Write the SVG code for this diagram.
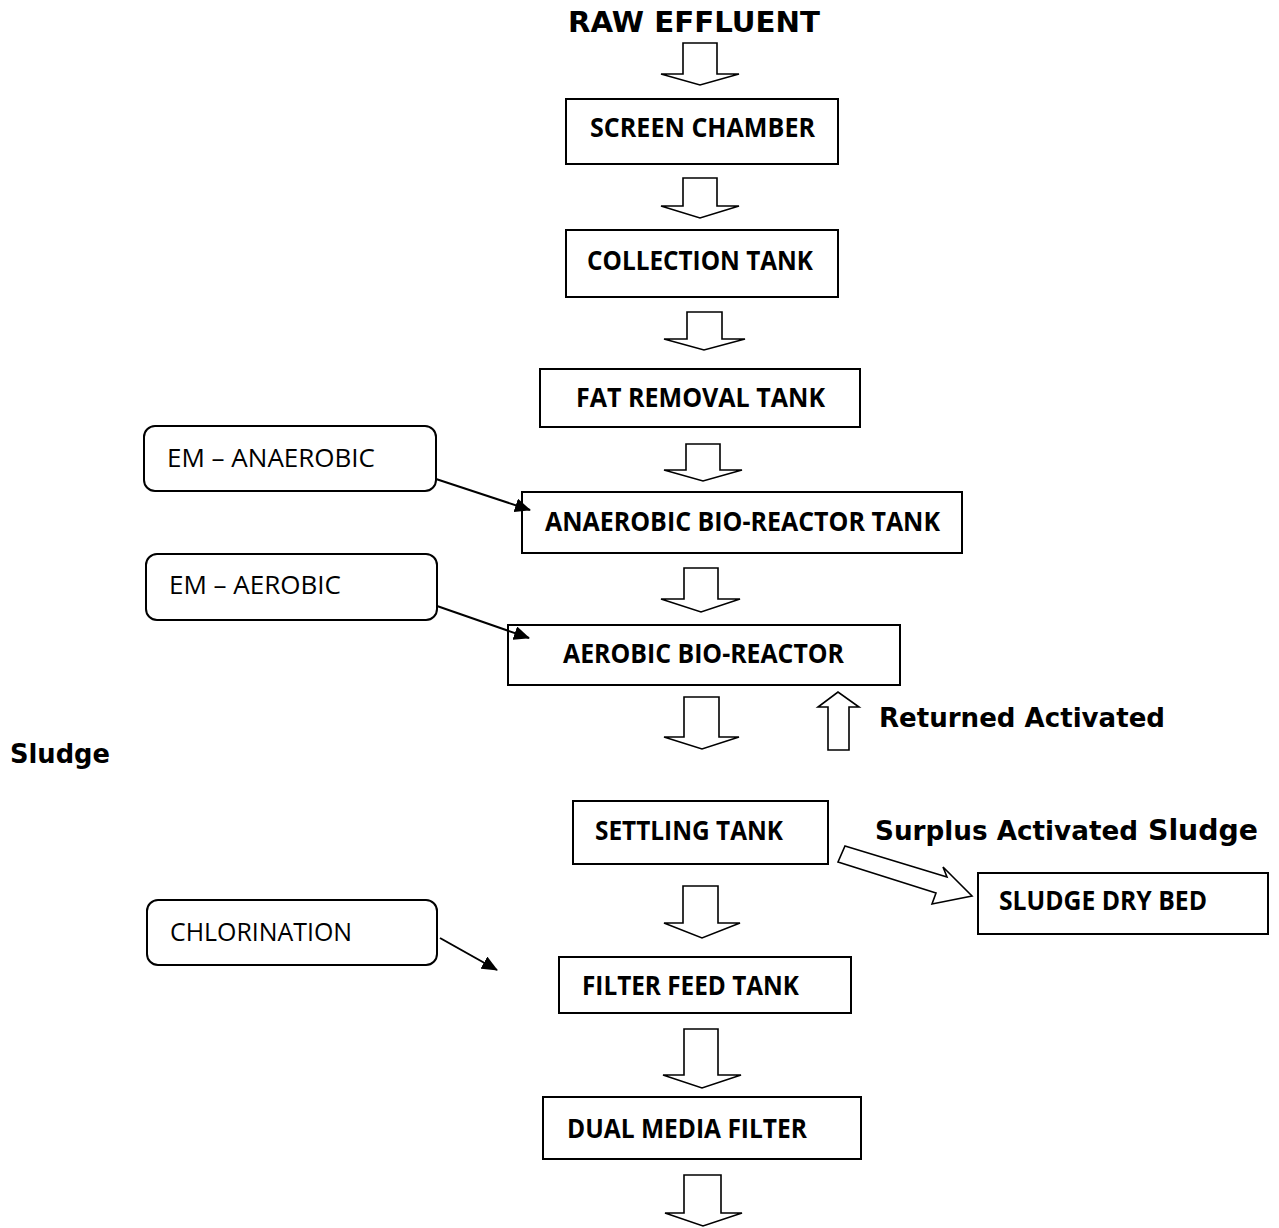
<svg xmlns="http://www.w3.org/2000/svg" width="1279" height="1228" viewBox="0 0 1279 1228">
<defs>
<marker id="ah" markerWidth="8" markerHeight="7" refX="7.5" refY="3.5" orient="auto" markerUnits="strokeWidth">
<path d="M0,0 L8,3.5 L0,7 z" fill="#000"/>
</marker>
<style>
.box{fill:#fff;stroke:#000;stroke-width:2}
.rbox{fill:#fff;stroke:#000;stroke-width:2}
.blk{fill:#fff;stroke:#000;stroke-width:1.6;stroke-linejoin:miter}
.lbl{font-family:"Open Sans","Liberation Sans",sans-serif;font-weight:bold;font-size:27px;fill:#000}
.rl{font-family:"Open Sans","Liberation Sans",sans-serif;font-size:26px;fill:#000}
.vb{font-family:"DejaVu Sans","Verdana",sans-serif;font-weight:bold;fill:#000}
.ln{stroke:#000;stroke-width:2;fill:none}
</style>
</defs>
<rect width="1279" height="1228" fill="#fff"/>

<text class="vb" x="568" y="32" font-size="29" textLength="252" lengthAdjust="spacingAndGlyphs">RAW EFFLUENT</text>

<g id="screen-chamber">
<rect class="box" x="566" y="99" width="272" height="65"/>
<text class="lbl" x="590" y="137" textLength="225" lengthAdjust="spacingAndGlyphs">SCREEN CHAMBER</text>
</g>
<g id="collection-tank">
<rect class="box" x="566" y="230" width="272" height="67"/>
<text class="lbl" x="587" y="270" textLength="226" lengthAdjust="spacingAndGlyphs">COLLECTION TANK</text>
</g>
<g id="fat-removal-tank">
<rect class="box" x="540" y="369" width="320" height="58"/>
<text class="lbl" x="576" y="407" textLength="249" lengthAdjust="spacingAndGlyphs">FAT REMOVAL TANK</text>
</g>
<g id="em-anaerobic">
<rect class="rbox" x="144" y="426" width="292" height="65" rx="11"/>
<text class="rl" x="167" y="467" textLength="208" lengthAdjust="spacingAndGlyphs">EM – ANAEROBIC</text>
</g>
<g id="anaerobic-bio-reactor">
<rect class="box" x="522" y="492" width="440" height="61"/>
<text class="lbl" x="545" y="531" textLength="395" lengthAdjust="spacingAndGlyphs">ANAEROBIC BIO-REACTOR TANK</text>
</g>
<g id="em-aerobic">
<rect class="rbox" x="146" y="554" width="291" height="66" rx="11"/>
<text class="rl" x="169" y="594" textLength="172" lengthAdjust="spacingAndGlyphs">EM – AEROBIC</text>
</g>
<g id="aerobic-bio-reactor">
<rect class="box" x="508" y="625" width="392" height="60"/>
<text class="lbl" x="563" y="663" textLength="281" lengthAdjust="spacingAndGlyphs">AEROBIC BIO-REACTOR</text>
</g>
<g id="returned-label">
<text class="vb" x="879" y="727" font-size="26" textLength="286" lengthAdjust="spacingAndGlyphs">Returned Activated</text>
<text class="vb" x="10" y="763" font-size="26" textLength="100" lengthAdjust="spacingAndGlyphs">Sludge</text>
</g>
<g id="settling-tank">
<rect class="box" x="573" y="801" width="255" height="63"/>
<text class="lbl" x="595" y="840" textLength="188" lengthAdjust="spacingAndGlyphs">SETTLING TANK</text>
</g>
<g id="surplus-label">
<text class="vb" x="875" y="840" font-size="26" textLength="263" lengthAdjust="spacingAndGlyphs">Surplus Activated</text>
<text class="vb" x="1148" y="840" font-size="29" textLength="110" lengthAdjust="spacingAndGlyphs">Sludge</text>
</g>
<g id="sludge-dry-bed">
<rect class="box" x="978" y="873" width="290" height="61"/>
<text class="lbl" x="999" y="910" textLength="208" lengthAdjust="spacingAndGlyphs">SLUDGE DRY BED</text>
</g>
<g id="chlorination">
<rect class="rbox" x="147" y="900" width="290" height="65" rx="11"/>
<text class="rl" x="170" y="941" textLength="182" lengthAdjust="spacingAndGlyphs">CHLORINATION</text>
</g>
<g id="filter-feed-tank">
<rect class="box" x="559" y="957" width="292" height="56"/>
<text class="lbl" x="582" y="995" textLength="217" lengthAdjust="spacingAndGlyphs">FILTER FEED TANK</text>
</g>
<g id="dual-media-filter">
<rect class="box" x="543" y="1097" width="318" height="62"/>
<text class="lbl" x="567" y="1138" textLength="240" lengthAdjust="spacingAndGlyphs">DUAL MEDIA FILTER</text>
</g>

<g id="connectors">
<polygon class="blk" points="683,43 717,43 717,74 739,74 700,85 661,74 683,74"/>
<polygon class="blk" points="683,178 717,178 717,206 739,206 700,218 661,206 683,206"/>
<polygon class="blk" points="687,312 722,312 722,339 745,339 704,350 664,339 687,339"/>
<polygon class="blk" points="686,444 720,444 720,470 742,470 703,481 664,470 686,470"/>
<polygon class="blk" points="684,568 718,568 718,599 740,599 701,612 661,599 684,599"/>
<polygon class="blk" points="684,697 719,697 719,737 739,737 702,749 664,737 684,737"/>
<polygon class="blk" points="828,750 849,750 849,707 859,707 838,692 818,707 828,707"/>
<polygon class="blk" points="683,886 718,886 718,923 740,923 702,938 664,923 683,923"/>
<polygon class="blk" points="684,1029 718,1029 718,1075 741,1075 702,1088 663,1075 684,1075"/>
<polygon class="blk" points="684,1175 721,1175 721,1213 742,1213 703,1226 665,1213 684,1213"/>
<polygon class="blk" points="845,846 947,877 943,867 972,896 932,904 936,893 838,862"/>
<line class="ln" x1="436" y1="479" x2="530" y2="510" marker-end="url(#ah)"/>
<line class="ln" x1="437" y1="606" x2="529" y2="638" marker-end="url(#ah)"/>
<line class="ln" x1="440" y1="938" x2="497" y2="970" marker-end="url(#ah)"/>
</g>
</svg>
